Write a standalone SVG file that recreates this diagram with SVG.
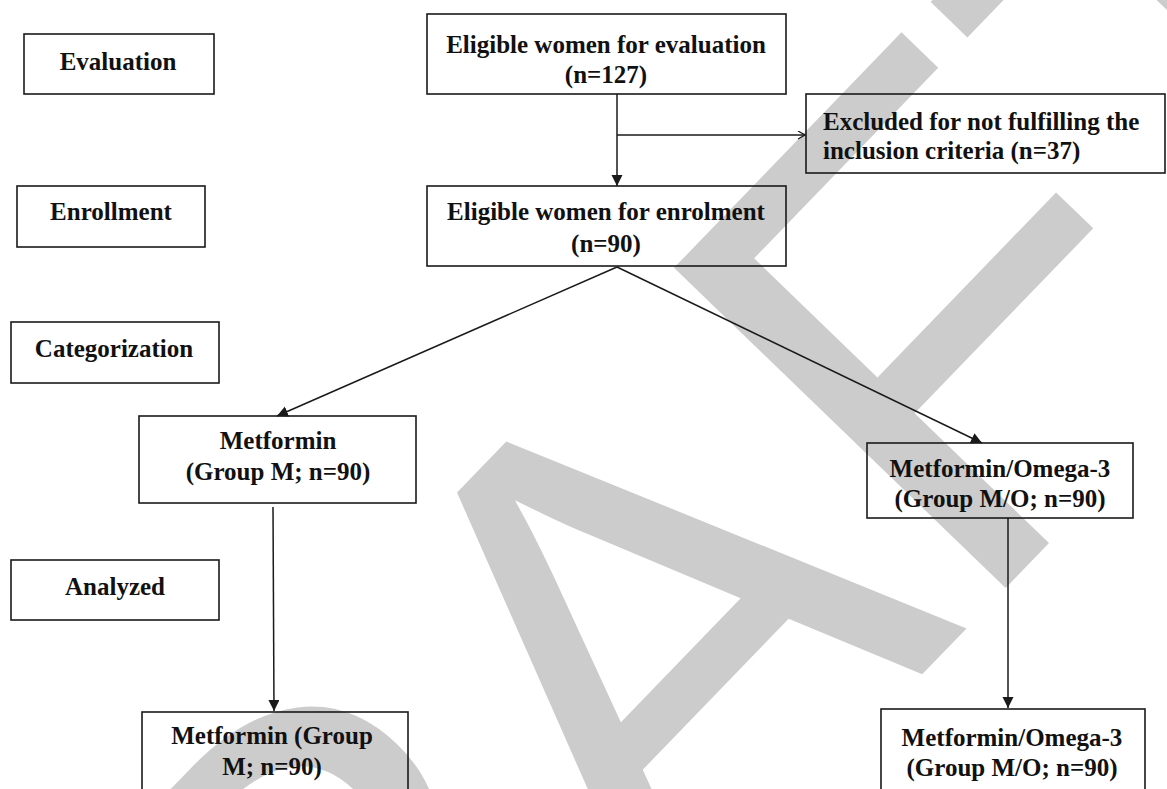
<svg xmlns="http://www.w3.org/2000/svg" width="1167" height="789" viewBox="0 0 1167 789">
<defs>
<style>
.box{fill:none;stroke:#1a1a1a;stroke-width:1.6}
.t{font-family:"Liberation Serif","Times New Roman",serif;font-weight:bold;font-size:25px;fill:#111;text-anchor:middle}
.tl{font-family:"Liberation Serif","Times New Roman",serif;font-weight:bold;font-size:25px;fill:#111;text-anchor:start}
.c{stroke:#1a1a1a;stroke-width:1.5;fill:none}
.wm{font-family:"Liberation Sans",Arial,sans-serif;font-size:670px;fill:#cccccc;font-kerning:none}
</style>
<marker id="ah" markerUnits="userSpaceOnUse" markerWidth="12" markerHeight="12" refX="11" refY="5.5" orient="auto"><path d="M0,0 L11,5.5 L0,11 z" fill="#1a1a1a"/></marker>
<marker id="oa" markerUnits="userSpaceOnUse" markerWidth="10" markerHeight="10" refX="8" refY="4.5" orient="auto"><path d="M1,0.5 L8,4.5 L1,8.5" fill="none" stroke="#1a1a1a" stroke-width="1.3"/></marker>
</defs>
<rect width="1167" height="789" fill="#ffffff"/>
<g id="watermark">
<text class="wm" transform="translate(657,949) rotate(-46)" x="-951.5 -467.7 0 446.9 856.3" y="0">DRAFT</text>
</g>
<g id="label-evaluation"><rect class="box" x="24" y="34" width="190" height="60"/><text class="t" x="118" y="70">Evaluation</text></g>
<g id="label-enrollment"><rect class="box" x="17" y="186" width="188" height="61"/><text class="t" x="111" y="220">Enrollment</text></g>
<g id="label-categorization"><rect class="box" x="11" y="322" width="208" height="61"/><text class="t" x="114" y="357">Categorization</text></g>
<g id="label-analyzed"><rect class="box" x="11" y="560" width="208" height="60"/><text class="t" x="115" y="595">Analyzed</text></g>
<g id="eligible-evaluation"><rect class="box" x="427" y="14" width="359" height="80"/><text class="t" x="606" y="53">Eligible women for evaluation</text><text class="t" x="606" y="83">(n=127)</text></g>
<g id="excluded"><rect class="box" x="806" y="94" width="359" height="79"/><text class="tl" x="823" y="130">Excluded for not fulfilling the</text><text class="tl" x="823" y="159">inclusion criteria (n=37)</text></g>
<g id="eligible-enrolment"><rect class="box" x="427" y="186" width="359" height="80"/><text class="t" x="606" y="220">Eligible women for enrolment</text><text class="t" x="606" y="252">(n=90)</text></g>
<g id="metformin"><rect class="box" x="139" y="416" width="277" height="87"/><text class="t" x="278" y="449">Metformin</text><text class="t" x="278" y="480">(Group M; n=90)</text></g>
<g id="metformin-omega"><rect class="box" x="867" y="443" width="266" height="75"/><text class="t" x="1000" y="477">Metformin/Omega-3</text><text class="t" x="1000" y="507">(Group M/O; n=90)</text></g>
<g id="metformin-analyzed"><rect class="box" x="142" y="712" width="266" height="90"/><text class="t" x="272" y="744">Metformin (Group</text><text class="t" x="272" y="775">M; n=90)</text></g>
<g id="metformin-omega-analyzed"><rect class="box" x="881" y="709" width="264" height="93"/><text class="t" x="1012" y="746">Metformin/Omega-3</text><text class="t" x="1012" y="776">(Group M/O; n=90)</text></g>
<g id="connectors">
<line class="c" x1="617" y1="94" x2="617" y2="186" marker-end="url(#ah)"/>
<line class="c" x1="617" y1="135" x2="805" y2="135" marker-end="url(#oa)"/>
<line class="c" x1="617" y1="267" x2="277" y2="416" marker-end="url(#ah)"/>
<line class="c" x1="617" y1="267" x2="982" y2="443" marker-end="url(#ah)"/>
<line class="c" x1="273" y1="507" x2="274" y2="711" marker-end="url(#ah)"/>
<line class="c" x1="1008" y1="518" x2="1008" y2="708" marker-end="url(#ah)"/>
</g>
</svg>
